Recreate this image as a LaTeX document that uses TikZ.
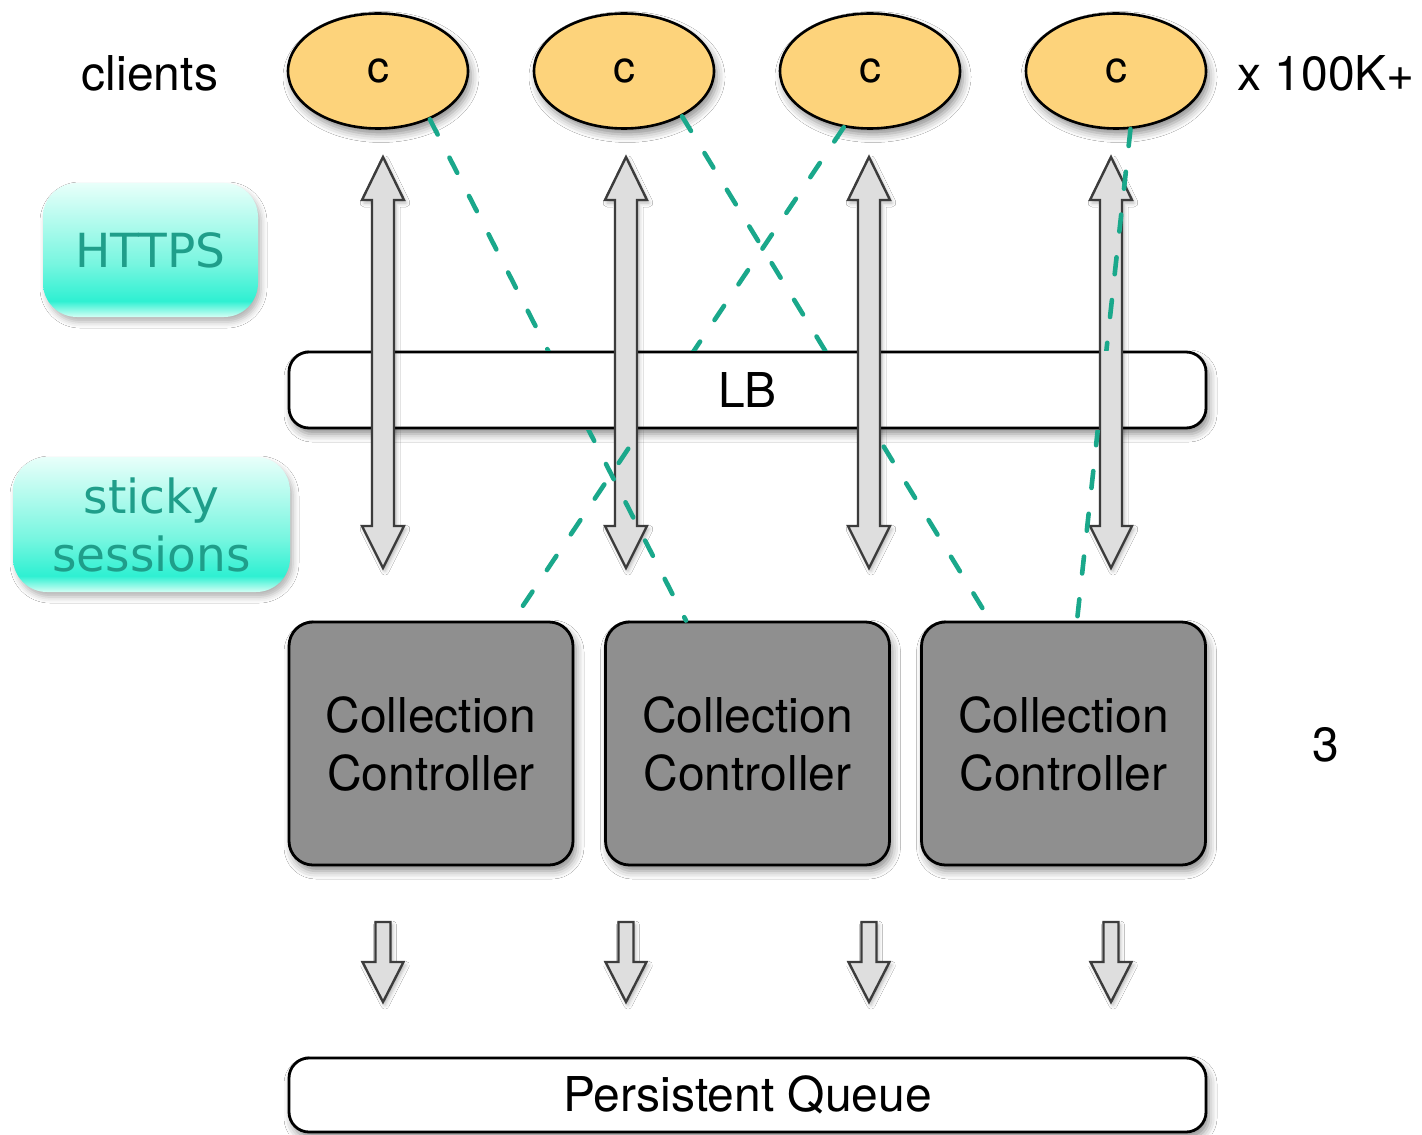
\documentclass[tikz,border=0pt]{standalone}
\usepackage{fontspec}
\setmainfont{TeX Gyre Heros}
\newfontfamily\tagfont{DejaVu Sans}
\usetikzlibrary{shapes.geometric,calc,shadows.blur}

\definecolor{clientfill}{HTML}{FDD37B}
\definecolor{ctrlgray}{HTML}{8F8F8F}
\definecolor{arrowfill}{HTML}{DEDEDE}
\definecolor{arrowline}{HTML}{3C3C3C}
\definecolor{linkteal}{HTML}{1AA88B}
\definecolor{tagtext}{HTML}{1F9E8A}
\definecolor{glowlow}{HTML}{D4FFF5}
\definecolor{glowhigh}{HTML}{2EF0D2}
\definecolor{glowmid}{HTML}{78F6E0}
\definecolor{glowtop}{HTML}{E8FFFA}

% vertical glow used by the side tags (path maps onto 25bp..75bp)
\pgfdeclareverticalshading{tealglow}{100bp}{color(0bp)=(glowlow); color(25bp)=(glowlow);
  color(31bp)=(glowhigh); color(45bp)=(glowmid); color(75bp)=(glowtop); color(100bp)=(glowtop)}

\tikzset{
  softshadow/.style={blur shadow={shadow xshift=1.5pt, shadow yshift=-3pt,
      shadow blur radius=4pt, shadow opacity=45}},
  client/.style={ellipse, draw=black, line width=1.3pt, fill=clientfill,
      minimum width=90pt, minimum height=57.5pt, inner sep=0pt,
      font=\fontsize{22}{22}\selectfont, softshadow},
  bar/.style={rectangle, rounded corners=10pt, draw=black, line width=1.4pt, fill=white,
      minimum width=458.5pt, minimum height=38pt, inner sep=0pt,
      font=\fontsize{24}{24}\selectfont, softshadow},
  ctrl/.style={rectangle, rounded corners=12pt, draw=black, line width=1.4pt, fill=ctrlgray,
      minimum width=142pt, minimum height=121.5pt, inner sep=0pt, align=center,
      font=\fontsize{24}{29}\selectfont, softshadow},
  tag/.style={rectangle, rounded corners=17pt, shade, shading=tealglow, text=tagtext,
      inner sep=0pt, align=center, font=\tagfont\fontsize{23.5}{29}\selectfont,
      blur shadow={shadow xshift=1.5pt, shadow yshift=-2.5pt, shadow blur radius=3pt, shadow opacity=30}},
  plainlabel/.style={inner sep=0pt, font=\fontsize{24}{24}\selectfont},
  arrowbody/.style={draw=arrowline, fill=arrowfill, line width=1.2pt, line join=miter,
      blur shadow={shadow xshift=1pt, shadow yshift=-1.5pt, shadow blur radius=2pt, shadow opacity=30}},
  link/.style={draw=linkteal, line width=2.3pt, line cap=round, dash pattern=on 8.5pt off 13pt},
}

% the four client-to-controller session links
\newcommand\sessionlinks{%
  \draw[link] (c1.-43)  -- ($(cc2.north)+(-61.5,0)$);
  \draw[link] (c2.-38)  -- ($(cc3.north)+(-73.5,0)$);
  \draw[link] (c3.-115) -- ($(cc1.north)+(82,0)$);
  \draw[link] (c4.-76)  -- ($(cc3.north)+(13.5,0)$);
}

\begin{document}
\begin{tikzpicture}[x=0.5pt,y=-0.5pt]
  \fill[white] (0,0) rectangle (1422,1134);
  \useasboundingbox (0,0) rectangle (1422,1134);

  % clients
  \node[client] (c1) at (378,71)  {c};
  \node[client] (c2) at (624,71)  {c};
  \node[client] (c3) at (870,71)  {c};
  \node[client] (c4) at (1116,71) {c};
  \node[plainlabel] (clients) at (150,73) {clients};
  \node[plainlabel] (count) at (1326,73) {x 100K+};

  % side tags
  \node[tag, minimum width=107.5pt, minimum height=67pt] (https) at (150.5,250) {HTTPS};
  \node[tag, minimum width=138.5pt, minimum height=67.5pt] (sticky) at (151.5,524.5) {sticky\\sessions};

  % load balancer
  \node[bar] (lb) at (747.5,390) {LB};

  % collection controllers
  \node[ctrl] (cc1) at (431,743.5)    {Collection\\Controller};
  \node[ctrl] (cc2) at (747.5,743.5)  {Collection\\Controller};
  \node[ctrl] (cc3) at (1063.5,743.5) {Collection\\Controller};
  \node[plainlabel] (nctrl) at (1326,745) {3};

  % persistent queue
  \node[bar, minimum height=37pt] (queue) at (747.5,1095) {Persistent Queue};

  % two-way traffic arrows through the LB
  \foreach \x in {383,626,869,1111}{
    \path[arrowbody] (\x-11,200) -- (\x-21,200) -- (\x,157) -- (\x+21,200) -- (\x+11,200)
      -- (\x+11,526) -- (\x+21,526) -- (\x,568) -- (\x-21,526) -- (\x-11,526) -- cycle;
  }

  % controller output arrows into the queue
  \foreach \x in {383,626,869,1111}{
    \path[arrowbody] (\x-7.5,922) -- (\x+7.5,922) -- (\x+7.5,962) -- (\x+20.5,962)
      -- (\x,1002) -- (\x-20.5,962) -- (\x-7.5,962) -- cycle;
  }

  % session links pass behind the LB bar
  \begin{scope}
    \clip (0,0) rectangle (1422,350);
    \sessionlinks
  \end{scope}
  \begin{scope}
    \clip (0,430) rectangle (1422,1134);
    \sessionlinks
  \end{scope}
\end{tikzpicture}
\end{document}
